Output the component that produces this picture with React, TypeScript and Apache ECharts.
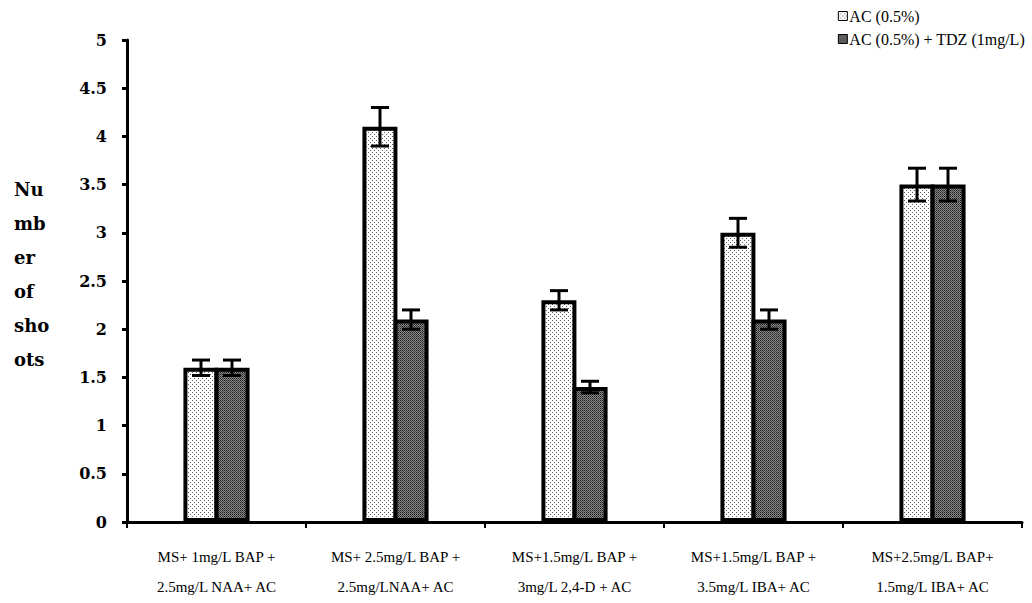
import React, { useEffect, useRef } from "react";
import * as echarts from "echarts";

const categories = [
  "MS+ 1mg/L BAP +\n2.5mg/L NAA+ AC",
  "MS+ 2.5mg/L BAP +\n2.5mg/LNAA+ AC",
  "MS+1.5mg/L BAP +\n3mg/L 2,4-D + AC",
  "MS+1.5mg/L BAP +\n3.5mg/L IBA+ AC",
  "MS+2.5mg/L BAP+\n1.5mg/L IBA+ AC",
];
const seriesNames = ["AC (0.5%)", "AC (0.5%) + TDZ (1mg/L)"];
const acValues = [1.6, 4.1, 2.3, 3.0, 3.5];
const tdzValues = [1.6, 2.1, 1.4, 2.1, 3.5];
const acErrors = [0.08, 0.2, 0.1, 0.15, 0.17];
const tdzErrors = [0.08, 0.1, 0.06, 0.1, 0.17];

const SERIF = "'Liberation Serif', 'DejaVu Serif', serif";
const BOLD_SERIF = "'DejaVu Serif', serif";

function makePattern(kind: "light" | "dark"): HTMLCanvasElement {
  const c = document.createElement("canvas");
  if (kind === "light") {
    c.width = 4;
    c.height = 4;
    const ctx = c.getContext("2d")!;
    ctx.fillStyle = "#ffffff";
    ctx.fillRect(0, 0, 4, 4);
    ctx.fillStyle = "#606060";
    ctx.fillRect(0, 0, 1, 1);
    ctx.fillRect(2, 2, 1, 1);
  } else {
    c.width = 2;
    c.height = 2;
    const ctx = c.getContext("2d")!;
    ctx.fillStyle = "#8a8a8a";
    ctx.fillRect(0, 0, 2, 2);
    ctx.fillStyle = "#1a1a1a";
    ctx.fillRect(0, 0, 1, 1);
    ctx.fillStyle = "#444444";
    ctx.fillRect(1, 1, 1, 1);
  }
  return c;
}

const BAR_W = 35;
const BORDER = 4;

export default function App() {
  const ref = useRef<HTMLDivElement>(null);
  useEffect(() => {
    document.body.style.margin = "0";
    const chart = echarts.init(ref.current!, null, { renderer: "svg" });
    const lightFill = { image: makePattern("light"), repeat: "repeat" } as any;
    const darkFill = { image: makePattern("dark"), repeat: "repeat" } as any;
    const half = (BAR_W - BORDER) / 2;

    const errSeries = (vals: number[], errs: number[], offset: number, name: string) => ({
      type: "custom",
      name: name + " err",
      z: 10,
      data: vals.map((v, i) => [i, v, errs[i]]),
      renderItem: (params: any, api: any) => {
        const i = api.value(0);
        const v = api.value(1);
        const e = api.value(2);
        const top = api.coord([i, v + e]);
        const bot = api.coord([i, v - e]);
        const x = top[0] + offset;
        const cap = 9;
        const style = { stroke: "#000", lineWidth: 3, fill: "none" };
        return {
          type: "group",
          children: [
            { type: "line", shape: { x1: x, y1: top[1], x2: x, y2: bot[1] }, style },
            { type: "line", shape: { x1: x - cap, y1: top[1], x2: x + cap, y2: top[1] }, style },
            { type: "line", shape: { x1: x - cap, y1: bot[1], x2: x + cap, y2: bot[1] }, style },
          ],
        };
      },
      tooltip: { show: false },
    });

    chart.setOption({
      animation: false,
      backgroundColor: "#ffffff",
      textStyle: { fontFamily: SERIF },
      grid: { left: 127, right: 10, top: 40, bottom: 81, containLabel: false },
      legend: {
        orient: "vertical",
        right: 2,
        top: 3,
        itemGap: 7,
        itemWidth: 9,
        itemHeight: 9,
        data: seriesNames,
        icon: "rect",
        textStyle: { fontFamily: SERIF, fontSize: 16, color: "#000", padding: [0, 0, 0, -3] },
        itemStyle: { borderWidth: 1, borderColor: "#000" },
      },
      xAxis: {
        type: "category",
        data: categories,
        axisLine: { lineStyle: { color: "#000", width: 3 } },
        axisTick: { show: true, length: 6, lineStyle: { color: "#000", width: 2 } },
        axisLabel: {
          color: "#000",
          fontFamily: SERIF,
          fontSize: 15,
          lineHeight: 30,
          margin: 20,
          interval: 0,
        },
      },
      yAxis: {
        type: "value",
        min: 0,
        max: 5,
        interval: 0.5,
        splitLine: { show: false },
        axisLine: { show: true, lineStyle: { color: "#000", width: 3 } },
        axisTick: { show: true, length: 5, lineStyle: { color: "#000", width: 3 } },
        axisLabel: {
          color: "#000",
          fontFamily: BOLD_SERIF,
          fontWeight: "bold",
          fontSize: 16,
          margin: 20,
        },
      },
      graphic: [
        {
          type: "text",
          left: 14,
          top: 172,
          style: {
            text: "Nu\nmb\ner\nof\nsho\nots",
            fontFamily: BOLD_SERIF,
            fontWeight: "bold",
            fontSize: 18,
            lineHeight: 34,
            fill: "#000",
            textAlign: "left",
          },
        },
      ],
      series: [
        {
          type: "bar",
          name: seriesNames[0],
          data: acValues,
          barWidth: BAR_W,
          barGap: "-11%",
          itemStyle: { color: lightFill, borderColor: "#000", borderWidth: BORDER },
        },
        {
          type: "bar",
          name: seriesNames[1],
          data: tdzValues,
          barWidth: BAR_W,
          barGap: "-11%",
          itemStyle: { color: darkFill, borderColor: "#000", borderWidth: BORDER },
        },
        errSeries(acValues, acErrors, -half, seriesNames[0]),
        errSeries(tdzValues, tdzErrors, half, seriesNames[1]),
      ],
    });
    return () => chart.dispose();
  }, []);
  return <div ref={ref} style={{ width: 1032, height: 603 }} />;
}
